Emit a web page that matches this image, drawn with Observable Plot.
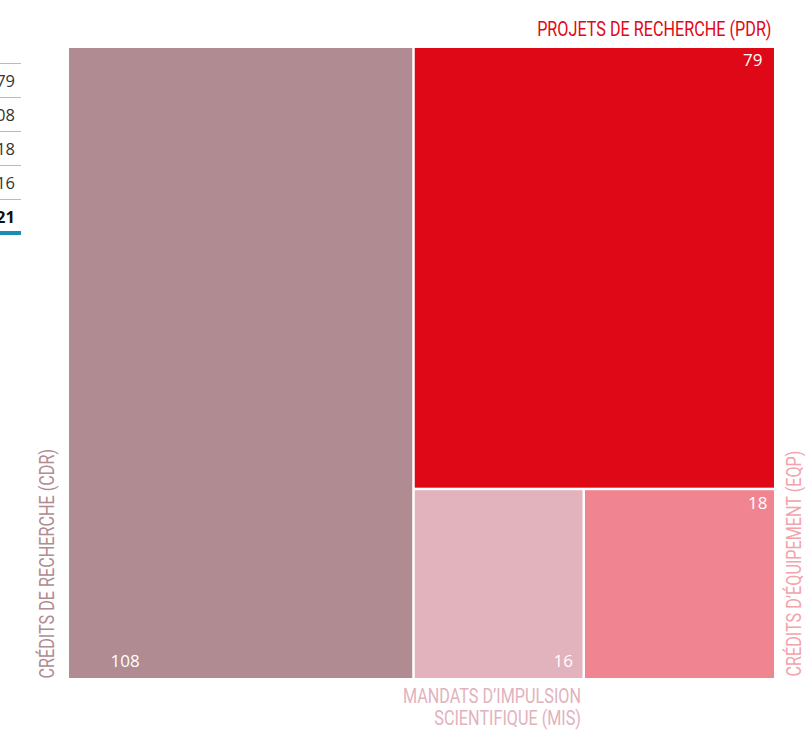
<!DOCTYPE html>
<html>
<head>
<meta charset="utf-8">
<script src="https://cdn.jsdelivr.net/npm/d3@7"></script>
<script src="https://cdn.jsdelivr.net/npm/@observablehq/plot@0.6"></script>
<style>
  html, body { margin: 0; padding: 0; background: #fff; }
  #wrap { position: relative; width: 805px; height: 732px; overflow: hidden; }
  #chart { position: absolute; left: 0; top: 0; }
  #table { position: absolute; left: 0; top: 63px; width: 21px; overflow: hidden;
           font-family: "Open Sans", sans-serif; font-size: 16.5px; color: #333; }
  #table div { height: 33px; border-top: 1.5px solid #8fcbe0; text-align: right; direction: rtl;
               padding-right: 6px; line-height: 33px; white-space: nowrap; overflow: hidden; }
  #table div.total { font-weight: 700; color: #111; height: 31px; border-bottom: 4px solid #1b8db4; }
</style>
</head>
<body>
<div id="wrap">
  <div id="chart"></div>
  <div id="table"></div>
</div>
<script>
// ---- data ----
const codes  = ["CDR", "PDR", "MIS", "EQP"];
const names  = ["CRÉDITS DE RECHERCHE (CDR)", "PROJETS DE RECHERCHE (PDR)",
                "MANDATS D’IMPULSION\nSCIENTIFIQUE (MIS)", "CRÉDITS D’ÉQUIPEMENT (EQP)"];
const counts = [108, 79, 16, 18];
const tableValues = [79, 108, 18, 16, 221];

// ---- styles ----
const fills  = {CDR: "#b08b91", PDR: "#df0816", MIS: "#e2b2bd", EQP: "#f08591"};
const labelColors = {CDR: "#b08b91", PDR: "#df0816", MIS: "#e2b2bd", EQP: "#f3a3ab"};
const W = 705, H = 630;

const root = d3.hierarchy({children: codes.map((c, i) => ({code: c, name: names[i], value: counts[i]}))})
  .sum(d => d.value || 0);
d3.treemap().size([W, H]).tile(d3.treemapBinary).paddingInner(2.5)(root);
const cells = root.leaves().map(l => ({...l.data, x0: l.x0, x1: l.x1, y0: l.y0, y1: l.y1}));
const cell = c => cells.filter(d => d.code === c);

const condensed = "Roboto, 'Noto Sans', sans-serif";
const valueFont = "'Open Sans', sans-serif";
const labelSize = 20;

const chart = Plot.plot({
  width: 805, height: 732,
  marginLeft: 0, marginRight: 0, marginTop: 0, marginBottom: 0,
  x: {domain: [0, W], range: [69, 774], axis: null},
  y: {domain: [0, H], range: [48, 678], axis: null},
  style: {background: "transparent"},
  marks: [
    Plot.rect(cells, {x1: "x0", x2: "x1", y1: "y0", y2: "y1", fill: d => fills[d.code]}),
    // values inside cells
    Plot.text(cell("CDR"), {x: "x0", y: "y1", text: "value", textAnchor: "start", lineAnchor: "bottom",
      dx: 41, dy: -12, fill: "white", fontSize: 17, fontFamily: valueFont}),
    Plot.text(cell("PDR"), {x: "x1", y: "y0", text: "value", textAnchor: "end", lineAnchor: "top",
      dx: -12, dy: 5, fill: "white", fontSize: 17, fontFamily: valueFont}),
    Plot.text(cell("MIS"), {x: "x1", y: "y1", text: "value", textAnchor: "end", lineAnchor: "bottom",
      dx: -10, dy: -12, fill: "white", fontSize: 17, fontFamily: valueFont}),
    Plot.text(cell("EQP"), {x: "x1", y: "y0", text: "value", textAnchor: "end", lineAnchor: "top",
      dx: -7, dy: 6, fill: "white", fontSize: 17, fontFamily: valueFont}),
    // category labels outside
    Plot.text(cell("PDR"), {x: "x1", y: "y0", text: "name", textAnchor: "end", lineAnchor: "bottom",
      dx: -3, dy: -13, fill: labelColors.PDR, fontSize: labelSize, fontFamily: condensed}),
    Plot.text(cell("CDR"), {x: "x0", y: "y1", text: "name", textAnchor: "start", lineAnchor: "middle",
      rotate: -90, dx: -21.5, dy: 0, fill: labelColors.CDR, fontSize: labelSize, fontFamily: condensed}),
    Plot.text(cell("EQP"), {x: "x1", y: "y1", text: "name", textAnchor: "start", lineAnchor: "middle",
      rotate: -90, dx: 20.5, dy: -2, fill: labelColors.EQP, fontSize: labelSize, fontFamily: condensed}),
    Plot.text(cell("MIS"), {x: "x1", y: "y1", text: "name", textAnchor: "end", lineAnchor: "top",
      dx: -2, dy: 8, lineHeight: 1.13, fill: labelColors.MIS, fontSize: labelSize, fontFamily: condensed})
  ]
});

// condense the category labels horizontally (DIN-condensed look)
const squeeze = 0.81;
d3.select(chart).selectAll("g").filter(function() {
  return (this.getAttribute("font-family") || "").startsWith("Roboto");
}).selectAll("text").each(function() {
  const t = this.getAttribute("transform");
  if (t) {
    this.setAttribute("transform", t + ` scale(${squeeze},1)`);
  } else {
    const x = +this.getAttribute("x") || 0, y = +this.getAttribute("y") || 0;
    this.removeAttribute("x"); this.removeAttribute("y");
    this.setAttribute("transform", `translate(${x},${y}) scale(${squeeze},1)`);
  }
});
document.getElementById("chart").appendChild(chart);

const table = document.getElementById("table");
tableValues.forEach((v, i) => {
  const row = document.createElement("div");
  if (i === tableValues.length - 1) row.className = "total";
  row.textContent = v;
  table.appendChild(row);
});
</script>
</body>
</html>
